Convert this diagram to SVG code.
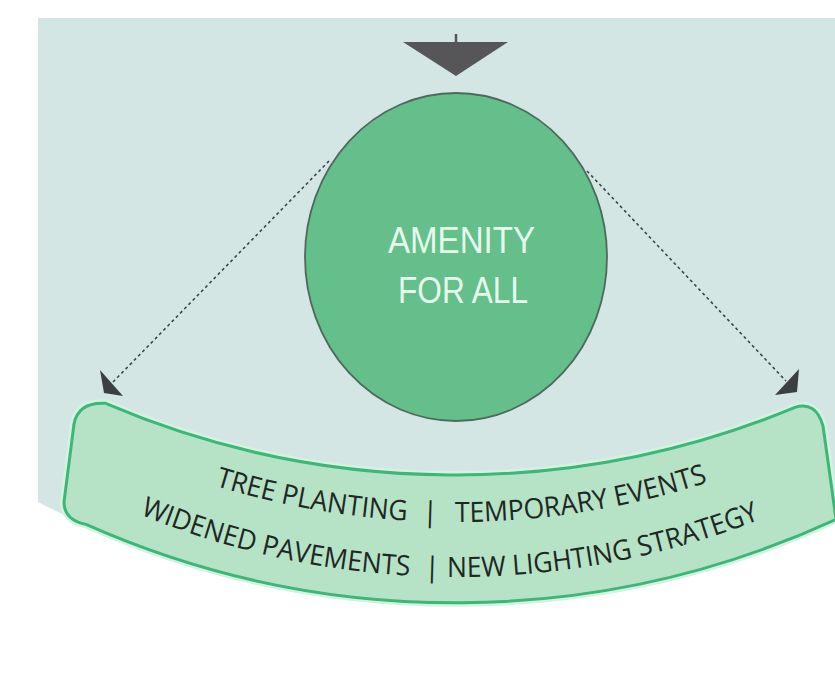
<svg xmlns="http://www.w3.org/2000/svg" width="835" height="685" viewBox="0 0 835 685">
  <style>
    .band-text { font-family: "Open Sans", "Noto Sans", sans-serif; font-size: 28px; fill: #1d2823; }
    .title { font-family: "Liberation Sans", Arial, sans-serif; font-size: 36px; fill: #e6fbeb; text-anchor: middle; }
    .dash { fill: none; stroke: #3c4746; stroke-width: 1.6; stroke-dasharray: 3 3; }
    .head { fill: #3a3f42; }
  </style>
  <defs>
    <path id="arc1" d="M76,428.6 A820,820 0 0,0 836,428.6"/>
    <path id="arc2" d="M76,484.9 A830,830 0 0,0 836,484.9"/>
  </defs>
  <rect width="835" height="685" fill="#ffffff"/>
  <path id="background" d="M38,18 H835 V519.4 A910,910 0 0,1 38,502 Z" fill="#d3e6e3"/>

  <g id="top-arrow">
    <line x1="456" y1="34" x2="456" y2="43" stroke="#555558" stroke-width="2.5"/>
    <polygon points="403,42 508,42 456,76" fill="#565659"/>
  </g>

  <g id="connectors">
    <line class="dash" x1="329" y1="161" x2="113" y2="382"/>
    <polygon class="head" points="100,370 104,393 123,396"/>
    <line class="dash" x1="587" y1="171" x2="786" y2="381"/>
    <polygon class="head" points="799,369 797,392 775,395"/>
  </g>

  <g id="amenity-node">
    <ellipse cx="456" cy="257" rx="151" ry="164" fill="#64bf8b" stroke="#4d6a5d" stroke-width="1.8"/>
    <text class="title" x="461.5" y="253" textLength="147" lengthAdjust="spacingAndGlyphs">AMENITY</text>
    <text class="title" x="463" y="303" textLength="130" lengthAdjust="spacingAndGlyphs">FOR ALL</text>
  </g>

  <g id="measures-band">
    <path d="M105,403.2 A889,889 0 0,0 795,407.4 Q816,401 823,426 L832,490 L836,519.4 A910,910 0 0,1 86,524.4 Q64,520 64,502 L74,424 Q78,402 105,403.2 Z" fill="none" stroke="#d2f4df" stroke-width="8"/>
    <path d="M105,403.2 A889,889 0 0,0 795,407.4 Q816,401 823,426 L832,490 L836,519.4 A910,910 0 0,1 86,524.4 Q64,520 64,502 L74,424 Q78,402 105,403.2 Z" fill="#b6e2c5" stroke="#3db679" stroke-width="3"/>
    <text class="band-text"><textPath href="#arc1" startOffset="150.5" textLength="195.6" lengthAdjust="spacingAndGlyphs">TREE PLANTING</textPath></text>
    <text class="band-text" text-anchor="middle"><textPath href="#arc1" startOffset="369">|</textPath></text>
    <text class="band-text"><textPath href="#arc1" startOffset="394" textLength="257" lengthAdjust="spacingAndGlyphs">TEMPORARY EVENTS</textPath></text>
    <text class="band-text"><textPath href="#arc2" startOffset="70.5" textLength="278" lengthAdjust="spacingAndGlyphs">WIDENED PAVEMENTS</textPath></text>
    <text class="band-text" text-anchor="middle"><textPath href="#arc2" startOffset="370.7">|</textPath></text>
    <text class="band-text"><textPath href="#arc2" startOffset="385.7" textLength="320" lengthAdjust="spacingAndGlyphs">NEW LIGHTING STRATEGY</textPath></text>
  </g>
</svg>
